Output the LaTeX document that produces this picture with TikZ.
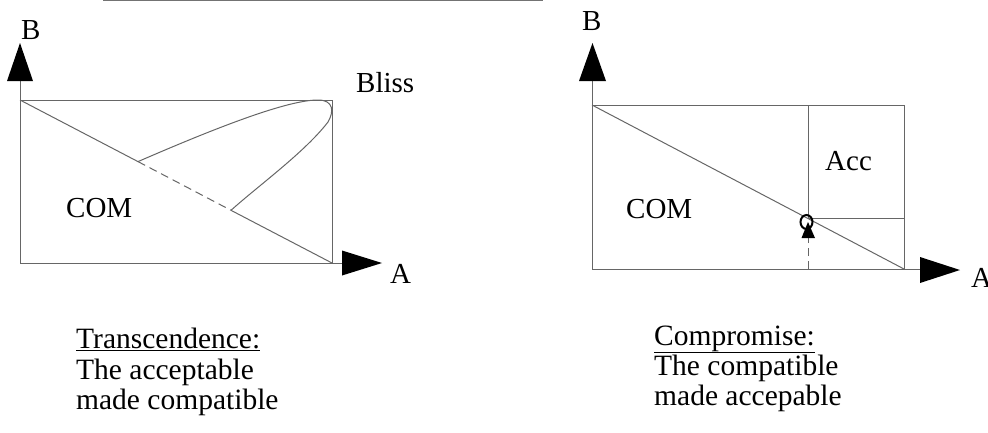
\documentclass[tikz,border=0pt]{standalone}
\usepackage{fontspec}
\setmainfont{Liberation Serif}
\begin{document}
\begin{tikzpicture}[x=1pt,y=-1pt,
  ln/.style={draw=black!60,line width=1pt},
  dsh/.style={draw=black!60,line width=1pt,dash pattern=on 8pt off 5pt},
  head/.style={fill=black,draw=none},
  lbl/.style={inner sep=0pt,anchor=base west,font=\fontsize{29}{30}\selectfont},
  txt/.style={inner sep=0pt,anchor=base west,font=\fontsize{29.5}{30}\selectfont}]
\useasboundingbox (0,0) rectangle (988,432);
% top partial rule
\draw[draw=black!55,line width=1.5pt] (103,0.6) -- (543,0.6);

% ---------- left diagram ----------
\coordinate (LO) at (20,263);
\coordinate (LTL) at (20,100);
\coordinate (LBR) at (332,263);
\coordinate (LTR) at (332,100);
\coordinate (LyB) at (20,81);
\coordinate (LxB) at (342,263);
\coordinate (LP) at (138,161.6);
\coordinate (LQ) at (231,210.3);
\draw[ln] (LTL) rectangle (LBR);
\draw[ln] (LO) -- (LyB);
\draw[ln] (LBR) -- (LxB);
\fill[head] (7,81) -- (20,43) -- (33,81) -- cycle;
\fill[head] (342,250.5) -- (382,263) -- (342,275.5) -- cycle;
\draw[ln] (LTL) -- (LP);
\draw[dsh] (LP) -- (LQ);
\draw[ln] (LQ) -- (LBR);
\draw[ln] (LP) .. controls (220,126) and (288,100) .. (318,100)
  .. controls (334,100) and (334,112) .. (328,122)
  .. controls (305,152) and (258,186) .. (LQ);
\node[lbl] (LB) at (21,39) {B};
\node[lbl] (LA) at (390,283) {A};
\node[lbl] (bliss) at (356,92) {Bliss};
\node[lbl] (LCOM) at (66,217) {COM};

% ---------- right diagram ----------
\coordinate (RO) at (592,269);
\coordinate (RTL) at (592,105);
\coordinate (RBR) at (904,269);
\coordinate (RyB) at (592,81);
\coordinate (RxB) at (920,269);
\coordinate (RM) at (808.5,218.8);
\draw[ln] (RTL) rectangle (RBR);
\draw[ln] (RO) -- (RyB);
\draw[ln] (RBR) -- (RxB);
\fill[head] (579,81) -- (592.5,43) -- (606,81) -- cycle;
\fill[head] (920,257) -- (960,270) -- (920,283) -- cycle;
\draw[ln] (RTL) -- (RBR);
\draw[ln] (808.5,105) -- (RM) -- (904,218.8);
\coordinate (Rbot) at (808.5,269);
\coordinate (Rab) at (808.5,237);
\draw[dsh] (Rbot) -- (Rab);
\fill[head] (801.5,238) -- (808,222) -- (815,238) -- cycle;
\draw[black,line width=2pt] (806.5,222) ellipse (6pt and 7pt);
\node[lbl] (RB) at (582,30) {B};
\node[lbl] (RA) at (971,287) {A};
\node[lbl] (acc) at (825,170) {Acc};
\node[lbl] (RCOM) at (626,218) {COM};

% ---------- captions ----------
\node[txt] (t1) at (76,348) {\underline{Transcendence:}};
\node[txt] (t2) at (76,379) {The acceptable};
\node[txt] (t3) at (76,409) {made compatible};
\node[txt] (c1) at (654,345) {\underline{Compromise:}};
\node[txt] (c2) at (654,375) {The compatible};
\node[txt] (c3) at (654,405) {made accepable};
\end{tikzpicture}
\end{document}
